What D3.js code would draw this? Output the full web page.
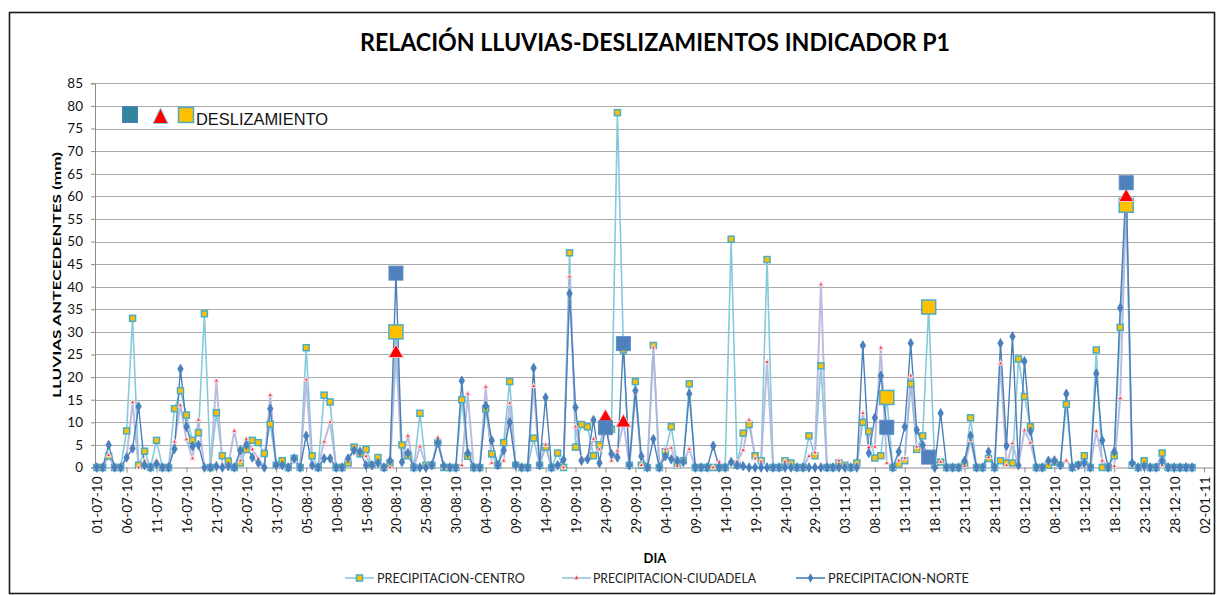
<!DOCTYPE html>
<html><head><meta charset="utf-8">
<script src="https://cdn.jsdelivr.net/npm/d3@7"></script>
<style>body{margin:0;background:#fff}svg{display:block}</style>
</head><body><svg id="c" width="1221" height="595"></svg>
<script>
// ---------------- DATA ----------------
const titulo = "RELACIÓN LLUVIAS-DESLIZAMIENTOS INDICADOR P1";
const yTicks = d3.range(0, 90, 5);
const inicio = new Date(Date.UTC(2010, 6, 1));
const dias = d3.utcDay.range(inicio, new Date(Date.UTC(2011, 0, 1)));   // 01-07-10 .. 31-12-10
const xTickFechas = d3.range(0, 186, 5).map(i => d3.utcDay.offset(inicio, i)); // 01-07-10 .. 02-01-11

const centro = [
0,0,2.5,0,0,8.1,33,0.5,3.6,0,6,0,0,13,17,11.6,6,7.7,34,0,
12.1,2.6,1.4,0,1,4,6,5.5,3.1,9.6,0.5,1.5,0,2,0,26.5,2.6,0,16,14.5,
0,0,1,4.5,3,4,0.5,2.2,0,1,30,5,2.6,0,12,0.5,0.5,5.5,0,0,
0,15,2.5,0,0,13,3,0.5,5.5,19,0.5,0,0,6.5,0.5,4.5,0,3.2,0,47.5,
4.5,9.5,9,2.6,5,9,8.5,78.5,26,0.5,19,0.5,0,27,0,3.5,9,0.5,1.5,18.5,
0,0,0,0,0,0,50.5,0.5,7.6,9.5,2.6,1.5,46,0,0,1.5,1,0,0,7,
2.6,22.5,0,0,1,0.5,0,1,10,8,2.1,2.6,15.5,0,0.7,1.5,18.5,4,7,35.5,
0.5,1.2,0,0,0,0.5,11,0,0,2,0,1.5,1,1,24,15.7,9,0,0,0.5,
1.2,0.5,14,0,0.5,2.6,0,26,0,0,2.6,31,58,0.5,0,1.5,0,0,3.2,0,
0,0,0,0];
const ciudadela = [
0,0,2.7,0,0,2.3,14.4,0,1.5,0,1.5,0,0,5.7,13.7,6.2,2,10.5,0,0.3,
19.2,0.5,0.5,8.1,1.5,6.3,4,2,0,16,0,0.5,0,1.5,0,19.4,1,0,5.7,10,
0,0,1.8,4,3.8,2.5,0,1,0,0,25.5,1.5,7,0,4.6,0.5,0.5,6.6,0,0,
0,0.5,16.3,0,0,17.8,1,0.5,1.5,14.2,0,0,0,18,0.5,5,0,0.5,0,42.2,
9,2,2,6.3,4,11,1.5,3.7,10,0.3,16.5,0.5,0,26.5,0,4,4.3,0.3,1,4.1,
0,0,0,0,1.2,0,1.5,1.3,3.8,10.5,2,1.3,23.3,0,0,1.3,0.5,0,0,2.5,
3.3,40.5,0,0,1.5,0.5,0,0.5,12,4.5,4.6,26.5,1,0,1.5,2,20.3,4.6,4,2.5,
0.5,1.2,0,0,0,0.3,6,0,0,2.3,0,23,0.5,5.3,0.5,8.2,5.5,0,0,1.2,
2.2,0.3,1.5,0,0,0.5,0,8,1.5,0,0.3,15.3,60,0.5,0,0.3,0,0,0.5,0,
0,0,0,0];
const norte = [
0,0,5,0,0,2.2,4.2,13.5,0.5,0,0.8,0,0,4.1,21.8,9,4.7,5,0,0,
0.3,0,0.3,0,3.8,5,2.2,1,0,13,0.5,0.5,0,2,0,7,0.5,0,2,2,
0,0,2,3.8,3.5,0.5,0.5,1,0,1.5,43,1.2,3.2,0,0,0,0.5,5.5,0.3,0,
0,19.2,3.2,0,0,13.6,6,0.5,3.8,10,0.5,0,0,22,0.5,15.5,0,0.5,1.7,38.5,
13.3,1.5,1.8,10.5,1,9,3,2.2,27.5,0.5,17,2.5,0,6.3,0,2.5,1.8,1.5,1.2,16.3,
0,0,0,4.8,0,0,1.2,0.5,0.3,0,0,0,0,0,0,0,0,0,0,0,
0,0,0,0,0,0,0,0,27,3.2,11,20.3,9,0,3.5,9,27.5,8.3,5,2.5,
0,12,0,0,0,1.5,7,0,0,3.5,0,27.5,4.8,29,0.5,23.5,8,0,0,1.5,
1.5,0.5,16.3,0,0.5,1,0,20.8,6,0,3.5,35.3,63,1,0,0.3,0,0,1.5,0,
0,0,0,0];

// landslide events (DESLIZAMIENTO)
const deslizNorte = [["2010-08-20",43],["2010-09-24",8.8],["2010-09-27",27.4],["2010-11-10",8.9],["2010-11-17",2.3],["2010-12-20",63]];
const deslizCiudadela = [["2010-08-20",25.3],["2010-09-24",11],["2010-09-27",9.9],["2010-12-20",59.8]];
const deslizCentro = [["2010-08-20",30],["2010-11-10",15.5],["2010-11-17",35.5],["2010-12-20",58]];

const seriesNombres = ["PRECIPITACION-CENTRO","PRECIPITACION-CIUDADELA","PRECIPITACION-NORTE"];

// ---------------- CHART ----------------
const svg = d3.select("#c");
const W = 1221, H = 595;
const L = 95, R = 1213, T = 83.3, B = 467.5;
const FONT = "Lato, 'Open Sans', 'DejaVu Sans', sans-serif";
const dayMs = 864e5;
const parse = d3.utcParse("%Y-%m-%d");

svg.append("rect").attr("width", W).attr("height", H).attr("fill", "#fff");
// chart frame
svg.append("rect").attr("x", 9.5).attr("y", 12.5).attr("width", 1205).attr("height", 581)
  .attr("fill", "none").attr("stroke", "#1a1a1a").attr("stroke-width", 1.6);

const x = d3.scaleUtc()
  .domain([new Date(inicio.getTime() - 0.28 * dayMs), new Date(Date.UTC(2011, 0, 3, 12))])
  .range([L, R]);
const y = d3.scaleLinear().domain([0, 85]).range([B, T]);

// gridlines
svg.append("g").selectAll("line").data(yTicks.filter(v => v > 0)).join("line")
  .attr("x1", L).attr("x2", R)
  .attr("y1", d => Math.round(y(d)) + 0.5).attr("y2", d => Math.round(y(d)) + 0.5)
  .attr("stroke", "#a9a9a9").attr("stroke-width", 1.2);

// y axis
const yAxis = svg.append("g").attr("transform", `translate(${L},0)`)
  .call(d3.axisLeft(y).tickValues(yTicks).tickSize(4).tickPadding(8));
yAxis.select(".domain").attr("stroke", "#8c8c8c");
yAxis.selectAll(".tick line").attr("stroke", "#8c8c8c");
yAxis.selectAll("text").attr("font-family", FONT).attr("font-size", 13.5).attr("fill", "#111");

// x axis
const xAxis = svg.append("g").attr("transform", `translate(0,${B})`)
  .call(d3.axisBottom(x).tickValues(xTickFechas).tickFormat(d3.utcFormat("%d-%m-%y")).tickSize(5).tickSizeOuter(0));
xAxis.select(".domain").attr("stroke", "#8c8c8c");
xAxis.selectAll(".tick line").attr("stroke", "#8c8c8c");
xAxis.selectAll("text")
  .attr("font-family", FONT).attr("font-size", 13.5).attr("fill", "#111")
  .attr("text-anchor", "end").attr("dominant-baseline", "central")
  .attr("transform", "translate(0,9) rotate(-90)").attr("x", 0).attr("y", 0).attr("dy", null);

// lines
const mk = arr => arr.map((v, i) => ({d: dias[i], v}));
const dC = mk(centro), dU = mk(ciudadela), dN = mk(norte);
const line = d3.line().x(p => x(p.d)).y(p => y(p.v));

svg.append("path").datum(dC).attr("d", line).attr("fill", "none")
  .attr("stroke", "#86cadc").attr("stroke-width", 1.6).attr("stroke-linejoin", "round");
svg.append("path").datum(dU).attr("d", line).attr("fill", "none")
  .attr("stroke", "#b3b6dc").attr("stroke-width", 2).attr("stroke-opacity", 0.9).attr("stroke-linejoin", "round");
svg.append("path").datum(dN).attr("d", line).attr("fill", "none")
  .attr("stroke", "#4a80b8").attr("stroke-width", 1.4).attr("stroke-linejoin", "round");

// small markers
svg.append("g").selectAll("rect").data(dC).join("rect")
  .attr("x", p => x(p.d) - 3).attr("y", p => y(p.v) - 3).attr("width", 6).attr("height", 6)
  .attr("fill", "#ffc000").attr("stroke", "#4bacc6").attr("stroke-width", 1.5);
const triSmall = d3.symbol().type(d3.symbolTriangle).size(10);
svg.append("g").selectAll("path").data(dU).join("path")
  .attr("transform", p => `translate(${x(p.d)},${y(p.v)})`).attr("d", triSmall)
  .attr("fill", "#ff2020").attr("stroke", "#f4d6dc").attr("stroke-width", 1.2);
const dia = d3.symbol().type(d3.symbolDiamond).size(26);
svg.append("g").selectAll("path").data(dN).join("path")
  .attr("transform", p => `translate(${x(p.d)},${y(p.v)})`).attr("d", dia)
  .attr("fill", "#4a7fbd").attr("stroke", "#4a7fbd").attr("stroke-width", 0.8);

// landslide markers
const S = 14;
svg.append("g").selectAll("rect").data(deslizCentro).join("rect")
  .attr("x", e => x(parse(e[0])) - S / 2).attr("y", e => y(e[1]) - S / 2)
  .attr("width", S).attr("height", S)
  .attr("fill", "#ffc000").attr("stroke", "#4bacc6").attr("stroke-width", 1.5);
const triBig = d3.symbol().type(d3.symbolTriangle).size(95);
svg.append("g").selectAll("path").data(deslizCiudadela).join("path")
  .attr("transform", e => `translate(${x(parse(e[0]))},${y(e[1])})`).attr("d", triBig)
  .attr("fill", "#ff0000").attr("stroke", "#f0c8cc").attr("stroke-width", 1);
svg.append("g").selectAll("rect").data(deslizNorte).join("rect")
  .attr("x", e => x(parse(e[0])) - S / 2).attr("y", e => y(e[1]) - S / 2)
  .attr("width", S).attr("height", S)
  .attr("fill", "#4f81bd").attr("stroke", "#5b8fc6").attr("stroke-width", 1);

// top-left legend (DESLIZAMIENTO)
svg.append("rect").attr("x", 122.5).attr("y", 106.5).attr("width", 15).attr("height", 16)
  .attr("fill", "#31859c").attr("stroke", "#4f81bd").attr("stroke-width", 1);
svg.append("path").attr("d", "M160.5,108 L168,123.5 L153,123.5 Z")
  .attr("fill", "#ff0000").attr("stroke", "#92cddc").attr("stroke-width", 1);
svg.append("rect").attr("x", 178.5).attr("y", 107.5).attr("width", 15).attr("height", 15)
  .attr("fill", "#ffc000").attr("stroke", "#4bacc6").attr("stroke-width", 1.5);
svg.append("text").attr("x", 196).attr("y", 124.5).text("DESLIZAMIENTO")
  .attr("font-family", "'Liberation Sans', Arial, sans-serif").attr("font-size", 16.5)
  .attr("textLength", 132).attr("lengthAdjust", "spacingAndGlyphs").attr("fill", "#111");

// title
svg.append("text").attr("x", 360).attr("y", 51).text(titulo)
  .attr("font-family", FONT).attr("font-weight", "bold").attr("font-size", 24)
  .attr("textLength", 590).attr("lengthAdjust", "spacingAndGlyphs").attr("fill", "#000");

// axis titles
svg.append("text").attr("transform", "translate(61,275) rotate(-90)").attr("text-anchor", "middle")
  .text("LLUVIAS ANTECEDENTES (mm)").attr("font-family", FONT).attr("font-weight", "bold")
  .attr("font-size", 12).attr("textLength", 246).attr("lengthAdjust", "spacingAndGlyphs").attr("fill", "#000");
svg.append("text").attr("x", 655).attr("y", 563).attr("text-anchor", "middle").text("DIA")
  .attr("font-family", FONT).attr("font-weight", "bold").attr("font-size", 13).attr("fill", "#000");

// bottom legend
const legY = 578;
const legItems = [
  {lx: 345, tx: 377, tw: 148},
  {lx: 562, tx: 593, tw: 163},
  {lx: 796, tx: 828, tw: 141}
];
legItems.forEach((it, i) => {
  const g = svg.append("g");
  g.append("line").attr("x1", it.lx).attr("x2", it.lx + 29).attr("y1", legY).attr("y2", legY)
    .attr("stroke", ["#86cadc", "#9fbfd8", "#4a80b8"][i]).attr("stroke-width", 1.6);
  const cx = it.lx + 14.5;
  if (i === 0) g.append("rect").attr("x", cx - 3).attr("y", legY - 3).attr("width", 6).attr("height", 6)
    .attr("fill", "#ffc000").attr("stroke", "#4bacc6").attr("stroke-width", 1.5);
  if (i === 1) g.append("path").attr("transform", `translate(${cx},${legY})`).attr("d", triSmall)
    .attr("fill", "#ff2020").attr("stroke", "#f4d6dc").attr("stroke-width", 1);
  if (i === 2) g.append("path").attr("transform", `translate(${cx},${legY})`).attr("d", dia)
    .attr("fill", "#4a7fbd");
  g.append("text").attr("x", it.tx).attr("y", legY + 4.5).text(seriesNombres[i])
    .attr("font-family", FONT).attr("font-size", 12.5).attr("textLength", it.tw)
    .attr("lengthAdjust", "spacingAndGlyphs").attr("fill", "#222");
});
</script></body></html>
